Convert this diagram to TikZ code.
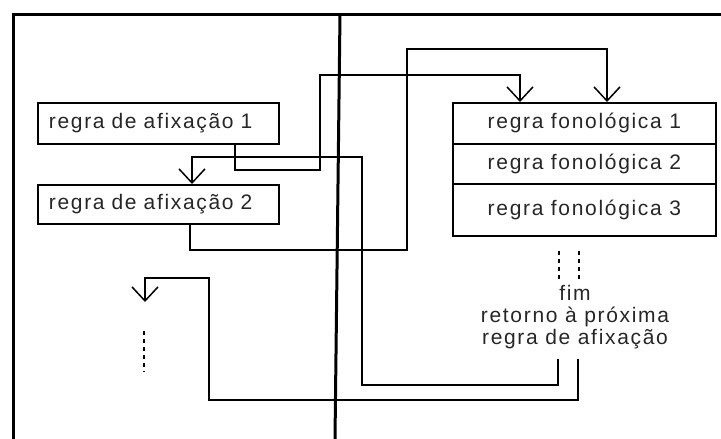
\documentclass[tikz,border=0pt]{standalone}
\usepackage{fontspec}
\setmainfont{Liberation Sans}
\newfontfamily\lblfont[LetterSpace=8]{Liberation Sans}
\usetikzlibrary{arrows.meta}
\begin{document}
\begin{tikzpicture}[x=1pt,y=-1pt,
  frameline/.style={line width=3pt},
  lbl/.style={font=\lblfont\fontsize{21}{22}\selectfont, text=black!85},
  abox/.style={draw, lbl, line width=1.8pt, anchor=north west, inner xsep=11pt, inner ysep=0pt, text width=219pt, align=left},
  fbox/.style={draw, lbl, line width=1.8pt, anchor=north west, inner sep=0pt, minimum width=263pt, align=center},
  conn/.style={line width=1.8pt},
  arr/.style={conn, -{Straight Barb[length=14pt,width=26pt,line width=1.5pt]}},
  dots/.style={line width=2.6pt, dash pattern=on 4pt off 4pt},
]
\useasboundingbox (0,0) rectangle (721,439);
% frame
\draw[frameline] (13,439) -- (13,14) -- (721,14);
\draw[frameline] (340,14) -- (335,439);
% left boxes
\node[abox, minimum height=41pt] (a1) at (37,102) {regra de afixação 1};
\node[abox, minimum height=39pt] (a2) at (37,184) {regra de afixação 2};
% phonological rules
\node[fbox, minimum height=41pt] (f1) at (452,102) {regra fonológica 1};
\node[fbox, minimum height=40pt] (f2) at (452,143) {regra fonológica 2};
\node[fbox, minimum height=52pt] (f3) at (452,183) {regra fonológica 3};
% end text
\node[lbl, align=center, inner sep=0pt] (ret) at (575,317) {fim\\retorno à próxima\\regra de afixação};
\coordinate (r1) at (558,359);
\coordinate (r2) at (578,359);
\coordinate (nx) at (145,302);
% dotted continuations
\draw[dots] (559,251) -- (559,279);
\draw[dots] (579,251) -- (579,279);
\draw[dots] (144,331) -- (144,372);
% connectors
\draw[arr] (a1.south west -| 235,0) -- (235,170) -- (320,170) -- (320,75) -- (520,75) -- (f1.north west -| 520,0);
\draw[arr] (a2.south west -| 190,0) -- (190,250) -- (407,250) -- (407,49) -- (607,49) -- (f1.north west -| 607,0);
\draw[arr] (r1) -- (558,385) -- (362,385) -- (362,157) -- (192,157) -- (a2.north west -| 192,0);
\draw[arr] (r2) -- (578,400) -- (209,400) -- (209,278) -- (145,278) -- (nx);
\end{tikzpicture}
\end{document}
